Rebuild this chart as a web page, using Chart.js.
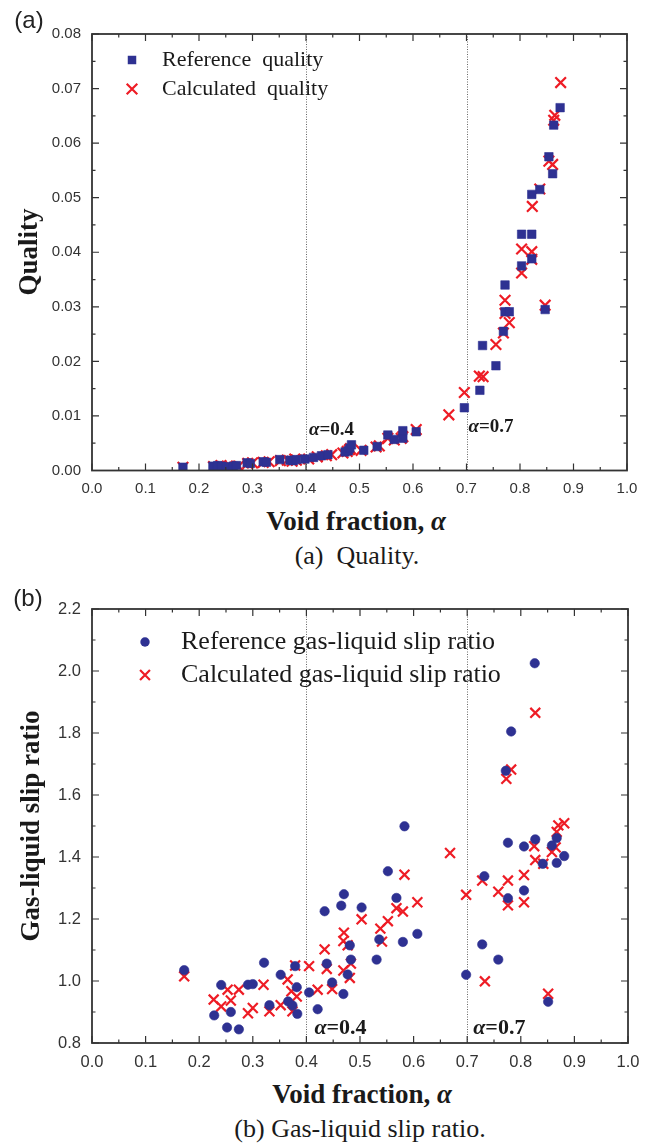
<!DOCTYPE html>
<html>
<head>
<meta charset="utf-8">
<script src="https://cdn.jsdelivr.net/npm/chart.js@4.4.1/dist/chart.umd.min.js"></script>
<style>
  body { margin: 0; background: #fff; width: 658px; height: 1146px; position: relative; overflow: hidden; }
  .box { position: absolute; left: 0; width: 658px; }
  #boxA { top: 0; height: 500px; }
  #boxB { top: 575px; height: 495px; }
  .lbl { position: absolute; transform: translate(-50%, -50%); white-space: nowrap; color: #1a1a1a;
         font-family: "Liberation Serif", "Times New Roman", serif; }
  .tag { font-family: "Liberation Sans", Arial, sans-serif; font-size: 24px; color: #222; }
  .axt { font-weight: bold; font-size: 27px; }
  .rot { transform: translate(-50%, -50%) rotate(-90deg); }
  .cap { font-size: 26px; }
</style>
</head>
<body>
<div class="box" id="boxA"><canvas id="quality"></canvas></div>
<div class="box" id="boxB"><canvas id="slip"></canvas></div>

<div class="lbl tag" style="left:29px; top:20px;">(a)</div>
<div class="lbl axt rot" style="left:28px; top:252px;">Quality</div>
<div class="lbl axt" style="left:356px; top:521px;">Void fraction, <i>α</i></div>
<div class="lbl cap" style="left:357px; top:556px;">(a)&nbsp; Quality.</div>

<div class="lbl tag" style="left:28px; top:598px;">(b)</div>
<div class="lbl axt rot" style="left:30px; top:826px;">Gas-liquid slip ratio</div>
<div class="lbl axt" style="left:362px; top:1094px;">Void fraction, <i>α</i></div>
<div class="lbl cap" style="left:360px; top:1129px;">(b) Gas-liquid slip ratio.</div>

<script>
// (a) quality vs void fraction
const refQualityX = [0.170, 0.226, 0.235, 0.242, 0.251, 0.264, 0.270, 0.290, 0.296, 0.320, 0.326, 0.351, 0.370, 0.376, 0.382,
  0.398, 0.414, 0.429, 0.441, 0.473, 0.479, 0.482, 0.485, 0.508, 0.533, 0.553, 0.565, 0.581, 0.581, 0.606,
  0.696, 0.725, 0.730, 0.755, 0.769, 0.772, 0.780, 0.772, 0.803, 0.803, 0.822, 0.822, 0.822, 0.837, 0.847,
  0.854, 0.861, 0.863, 0.875];
const refQualityY = [0.0006, 0.0008, 0.0009, 0.0008, 0.0007, 0.0008, 0.0009, 0.0014, 0.0013, 0.0016, 0.0015, 0.0020, 0.0019, 0.0018, 0.0020,
  0.0021, 0.0024, 0.0027, 0.0029, 0.0034, 0.0036, 0.0041, 0.0047, 0.0037, 0.0044, 0.0065, 0.0057, 0.0059, 0.0073, 0.0071,
  0.0115, 0.0147, 0.0229, 0.0192, 0.0255, 0.0291, 0.0291, 0.0340, 0.0375, 0.0433, 0.0388, 0.0433, 0.0506, 0.0515, 0.0295,
  0.0575, 0.0544, 0.0633, 0.0665];
const calcQualityX = [0.170, 0.227, 0.241, 0.253, 0.259, 0.274, 0.291, 0.300, 0.320, 0.331, 0.352, 0.365, 0.374, 0.379, 0.382,
  0.405, 0.421, 0.438, 0.448, 0.469, 0.477, 0.481, 0.483, 0.503, 0.531, 0.537, 0.553, 0.565, 0.578, 0.581, 0.606,
  0.667, 0.696, 0.724, 0.731, 0.755, 0.769, 0.772, 0.772, 0.780, 0.803, 0.803, 0.822, 0.822, 0.823, 0.837, 0.847,
  0.854, 0.861, 0.863, 0.865, 0.876];
const calcQualityY = [0.0006, 0.0007, 0.0009, 0.0008, 0.0007, 0.0008, 0.0013, 0.0014, 0.0015, 0.0016, 0.0018, 0.0019, 0.0017, 0.0021, 0.0019,
  0.0021, 0.0025, 0.0027, 0.0029, 0.0032, 0.0035, 0.0038, 0.0040, 0.0037, 0.0043, 0.0045, 0.0059, 0.0056, 0.0059, 0.0062, 0.0075,
  0.0102, 0.0143, 0.0173, 0.0172, 0.0231, 0.0252, 0.0288, 0.0312, 0.0271, 0.0362, 0.0406, 0.0401, 0.0387, 0.0484, 0.0516, 0.0303,
  0.0567, 0.0561, 0.0642, 0.0651, 0.0711];

// (b) gas-liquid slip ratio vs void fraction
const refSlipX = [0.172, 0.241, 0.291, 0.300, 0.228, 0.259, 0.252, 0.274, 0.321, 0.331, 0.352, 0.366, 0.374, 0.379, 0.382,
  0.383, 0.405, 0.421, 0.434, 0.438, 0.448, 0.465, 0.470, 0.469, 0.477, 0.481, 0.483, 0.503, 0.531,
  0.536, 0.552, 0.568, 0.580, 0.583, 0.607, 0.698, 0.728, 0.732, 0.758, 0.772, 0.776, 0.776, 0.782,
  0.806, 0.806, 0.826, 0.827, 0.841, 0.851, 0.858, 0.867, 0.867, 0.881];
const refSlipY = [1.035, 0.987, 0.988, 0.990, 0.889, 0.900, 0.850, 0.844, 1.059, 0.922, 1.020, 0.934, 0.921, 1.048, 0.980,
  0.894, 0.963, 0.909, 1.225, 1.056, 0.995, 1.243, 1.280, 0.958, 1.021, 1.115, 1.069, 1.237, 1.069,
  1.134, 1.354, 1.268, 1.126, 1.499, 1.152, 1.020, 1.118, 1.338, 1.069, 1.678, 1.446, 1.267, 1.805,
  1.434, 1.292, 2.025, 1.457, 1.378, 0.933, 1.437, 1.461, 1.381, 1.403];
const calcSlipX = [0.172, 0.227, 0.241, 0.253, 0.259, 0.274, 0.291, 0.300, 0.320, 0.331, 0.352, 0.365, 0.372, 0.379, 0.382,
  0.374, 0.405, 0.421, 0.434, 0.438, 0.448, 0.470, 0.469, 0.477, 0.469, 0.481, 0.483, 0.503,
  0.538, 0.541, 0.552, 0.568, 0.580, 0.583, 0.607, 0.668, 0.698, 0.728, 0.733, 0.758, 0.773, 0.776, 0.776,
  0.782, 0.806, 0.806, 0.825, 0.827, 0.827, 0.842, 0.851, 0.858, 0.865, 0.867, 0.870, 0.881];
const calcSlipY = [1.015, 0.940, 0.918, 0.972, 0.937, 0.972, 0.896, 0.913, 0.988, 0.902, 0.922, 1.005, 0.967, 1.050, 0.950,
  0.902, 1.048, 0.972, 1.102, 1.039, 0.974, 1.156, 1.129, 1.115, 1.034, 1.010, 1.056, 1.199,
  1.169, 1.127, 1.193, 1.235, 1.224, 1.343, 1.254, 1.413, 1.278, 1.324, 0.999, 1.288, 1.652, 1.324, 1.244,
  1.682, 1.342, 1.254, 1.435, 1.865, 1.390, 1.378, 0.959, 1.416, 1.431, 1.481, 1.502, 1.509];

const markLines = [0.4, 0.7];

const BLUE = '#2e3192';
const RED = '#ee1c25';
const INK = '#333';

function toPoints(xs, ys) {
  return xs.map((x, i) => ({ x: x, y: ys[i] }));
}

function drawMarker(ctx, style, x, y, r, color) {
  ctx.save();
  ctx.fillStyle = color;
  ctx.strokeStyle = color;
  if (style === 'rect') {
    const s = r * Math.SQRT1_2;
    ctx.fillRect(x - s, y - s, 2 * s, 2 * s);
  } else if (style === 'circle') {
    ctx.beginPath();
    ctx.arc(x, y, r, 0, Math.PI * 2);
    ctx.fill();
  } else {
    const d = r * Math.SQRT1_2;
    ctx.lineWidth = 2.2;
    ctx.beginPath();
    ctx.moveTo(x - d, y - d); ctx.lineTo(x + d, y + d);
    ctx.moveTo(x - d, y + d); ctx.lineTo(x + d, y - d);
    ctx.stroke();
  }
  ctx.restore();
}

// frame, inward ticks, dotted α lines, in-plot legend and α labels
const decor = {
  id: 'decor',
  beforeDatasetsDraw(chart, args, o) {
    const { ctx, chartArea: a, scales: { x } } = chart;
    ctx.save();
    ctx.strokeStyle = '#666';
    ctx.lineWidth = 1;
    ctx.setLineDash([1, 1.5]);
    markLines.forEach(v => {
      const px = Math.round(x.getPixelForValue(v)) + 0.5;
      ctx.beginPath();
      ctx.moveTo(px, a.top);
      ctx.lineTo(px, a.bottom);
      ctx.stroke();
    });
    ctx.restore();
  },
  afterDatasetsDraw(chart, args, o) {
    const { ctx, chartArea: a, scales: { x, y } } = chart;
    ctx.save();
    ctx.strokeStyle = INK;
    ctx.lineWidth = 1.2;
    // x ticks on bottom and top
    const nx = Math.round((x.max - x.min) / o.xMinor);
    const xr = Math.round(o.xMajor / o.xMinor);
    for (let i = 0; i <= nx; i++) {
      const px = x.getPixelForValue(x.min + i * o.xMinor);
      const len = i % xr === 0 ? 7 : 3.5;
      ctx.beginPath();
      ctx.moveTo(px, a.bottom); ctx.lineTo(px, a.bottom - len);
      ctx.moveTo(px, a.top); ctx.lineTo(px, a.top + len);
      ctx.stroke();
    }
    // y ticks on left and right
    const ny = Math.round((y.max - y.min) / o.yMinor);
    const yr = Math.round(o.yMajor / o.yMinor);
    for (let i = 0; i <= ny; i++) {
      const py = y.getPixelForValue(y.min + i * o.yMinor);
      const len = i % yr === 0 ? 7 : 3.5;
      ctx.beginPath();
      ctx.moveTo(a.left, py); ctx.lineTo(a.left + len, py);
      ctx.moveTo(a.right, py); ctx.lineTo(a.right - len, py);
      ctx.stroke();
    }
    // frame
    ctx.lineWidth = 1.8;
    ctx.strokeRect(a.left, a.top, a.right - a.left, a.bottom - a.top);

    // legend
    const lg = o.legend;
    ctx.font = lg.font;
    ctx.textBaseline = 'middle';
    ctx.fillStyle = '#1a1a1a';
    chart.data.datasets.forEach((ds, i) => {
      const ly = a.top + lg.y + i * lg.gap;
      drawMarker(ctx, ds.pointStyle, a.left + lg.x, ly, ds.pointRadius, ds.pointStyle === 'crossRot' ? ds.borderColor : ds.backgroundColor);
      ctx.fillStyle = '#1a1a1a';
      ctx.fillText(ds.label, a.left + lg.x + lg.text, ly);
    });

    // α = value labels next to the dotted lines
    const al = o.alpha;
    markLines.forEach((v, i) => {
      let px = x.getPixelForValue(v) + al.dx[i];
      const py = a.bottom - al.dy[i];
      ctx.font = 'italic bold ' + al.size + 'px "Liberation Serif", serif';
      ctx.fillText('α', px, py);
      px += ctx.measureText('α').width;
      ctx.font = 'bold ' + al.size + 'px "Liberation Serif", serif';
      ctx.fillText('=' + v.toFixed(1), px, py);
    });
    ctx.restore();
  }
};

function makeChart(id, cfg) {
  return new Chart(document.getElementById(id), {
    type: 'scatter',
    data: {
      datasets: [
        {
          label: cfg.refLabel,
          data: toPoints(cfg.refX, cfg.refY),
          pointStyle: cfg.refStyle,
          pointRadius: cfg.refRadius,
          backgroundColor: BLUE,
          borderColor: BLUE,
          borderWidth: 0.6
        },
        {
          label: cfg.calcLabel,
          data: toPoints(cfg.calcX, cfg.calcY),
          pointStyle: 'crossRot',
          pointRadius: cfg.calcRadius,
          backgroundColor: RED,
          borderColor: RED,
          borderWidth: 2.2
        }
      ]
    },
    options: {
      responsive: true,
      maintainAspectRatio: false,
      animation: false,
      events: [],
      layout: { padding: { top: 34, right: cfg.padRight, left: 0, bottom: 0 } },
      scales: {
        x: {
          type: 'linear', min: 0, max: 1,
          grid: { display: false, drawTicks: false },
          border: { display: false },
          ticks: {
            stepSize: 0.1, autoSkip: false, maxRotation: 0,
            padding: cfg.xPad, color: INK,
            font: { family: 'Liberation Sans', size: cfg.tickSize },
            callback: v => v.toFixed(1)
          },
          afterFit: s => { s.height = cfg.xHeight; }
        },
        y: {
          type: 'linear', min: cfg.yMin, max: cfg.yMax,
          grid: { display: false, drawTicks: false },
          border: { display: false },
          ticks: {
            stepSize: cfg.yStep, autoSkip: false,
            padding: 11, color: INK,
            font: { family: 'Liberation Sans', size: cfg.tickSize },
            callback: v => v.toFixed(cfg.yDigits)
          },
          afterFit: s => { s.width = 92; }
        }
      },
      plugins: {
        legend: { display: false },
        tooltip: { enabled: false },
        decor: {
          xMajor: 0.1, xMinor: 0.05,
          yMajor: cfg.yStep, yMinor: cfg.yStep / 2,
          legend: cfg.legend,
          alpha: cfg.alpha
        }
      }
    },
    plugins: [decor]
  });
}

makeChart('quality', {
  refLabel: 'Reference  quality', calcLabel: 'Calculated  quality',
  refX: refQualityX, refY: refQualityY, calcX: calcQualityX, calcY: calcQualityY,
  refStyle: 'rect', refRadius: 6, calcRadius: 7.5,
  yMin: 0, yMax: 0.08, yStep: 0.01, yDigits: 2,
  tickSize: 15, xPad: 9, xHeight: 29.5, padRight: 31,
  legend: { x: 40, y: 26, gap: 29, text: 30, font: '22px "Liberation Serif", serif' },
  alpha: { dx: [3, 2], dy: [40, 43], size: 19 }
});

makeChart('slip', {
  refLabel: 'Reference gas-liquid slip ratio', calcLabel: 'Calculated gas-liquid slip ratio',
  refX: refSlipX, refY: refSlipY, calcX: calcSlipX, calcY: calcSlipY,
  refStyle: 'circle', refRadius: 4.7, calcRadius: 7,
  yMin: 0.8, yMax: 2.2, yStep: 0.2, yDigits: 1,
  tickSize: 16.5, xPad: 10, xHeight: 27, padRight: 30,
  legend: { x: 53, y: 33, gap: 33, text: 36, font: '26px "Liberation Serif", serif' },
  alpha: { dx: [8, 6], dy: [15, 15], size: 22 }
});
</script>
</body>
</html>
